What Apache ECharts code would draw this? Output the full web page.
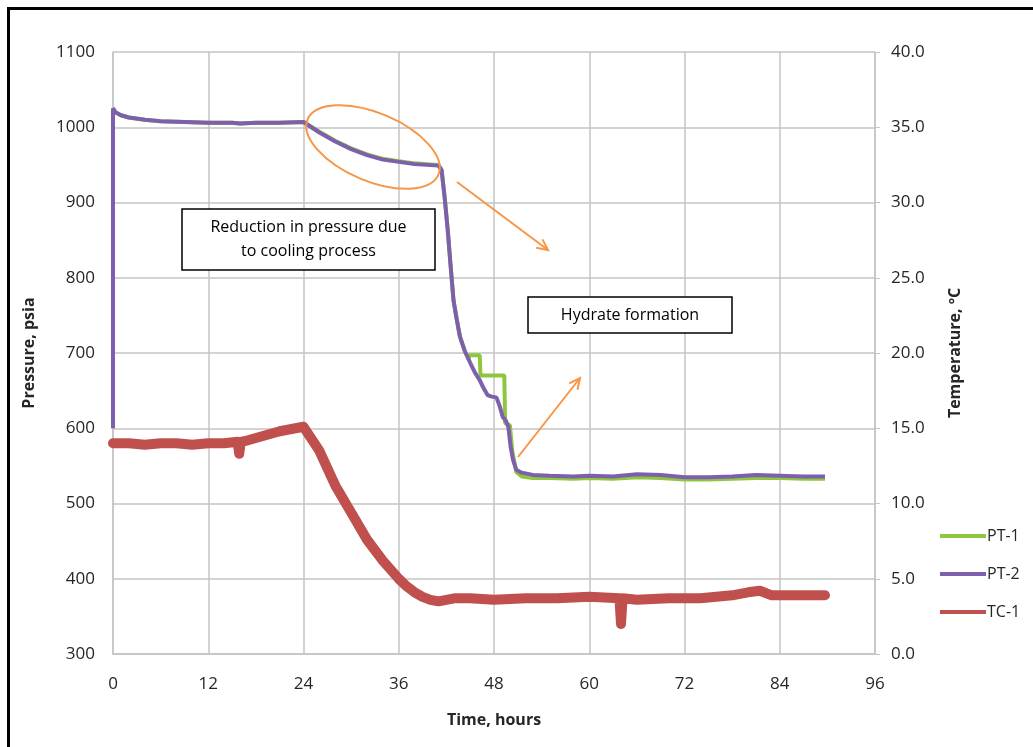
<!DOCTYPE html>
<html>
<head>
<meta charset="utf-8">
<style>
  html, body { margin: 0; padding: 0; background: #fff; }
  #chart { width: 1033px; height: 747px; }
</style>
<script src="https://cdn.jsdelivr.net/npm/echarts@6/dist/echarts.min.js"></script>
</head>
<body>
<div id="chart"></div>
<script>
// time in hours, pressure in psia, temperature in degC
const pt2Time = [0, 0, 0.3, 1, 2, 4, 6, 9, 12, 15, 16, 18, 21, 24, 26, 28, 30, 32, 34, 36, 38, 39.5, 41,
  41.4, 41.8, 42.2, 42.5, 42.9, 43.3, 43.7, 44.3, 45, 45.6, 46.2, 46.6, 47.2, 47.7, 48.3, 48.7, 49.1,
  49.5, 49.8, 50.1, 50.4, 50.8, 51.5, 52.9, 55, 58, 60, 63, 66, 69, 72, 75, 78, 81, 84, 87, 89.7];
const pt2Values = [600, 1025, 1020, 1016, 1013, 1010, 1008, 1007, 1006, 1006, 1005, 1006, 1006, 1007, 993, 981, 971, 963, 957, 954, 951, 950, 949,
  943, 905, 860, 820, 770, 745, 722, 703, 687, 674, 664, 655, 644, 642, 641, 630, 615,
  610, 602, 575, 558, 545, 541, 538, 537, 536, 537, 536, 539, 538, 535, 535, 536, 538, 537, 536, 536];

const pt1Time = [0, 0, 0.3, 1, 2, 4, 6, 9, 12, 15, 16, 18, 21, 24, 26, 28, 30, 32, 34, 36, 38, 39.5, 41,
  41.4, 41.8, 42.2, 42.5, 42.9, 43.3, 43.7, 44.3, 44.8, 44.9, 46.2, 46.3, 49.3, 49.4, 50.0, 50.3,
  50.8, 51.5, 52.9, 55, 58, 60, 63, 66, 69, 72, 75, 78, 81, 84, 87, 89.7];
const pt1Values = [600, 1025, 1020, 1016, 1013, 1010, 1008, 1007, 1006, 1006, 1005, 1006, 1006, 1007, 994, 982, 972, 964, 958, 955, 952, 951, 950,
  943, 905, 860, 820, 770, 745, 722, 703, 692, 697, 697, 670, 670, 607, 604, 570,
  542, 536, 534, 534, 533, 534, 533, 535, 534, 532, 532, 533, 534, 534, 533, 533];

const tcTime = [0, 2, 4, 6, 8, 10, 12, 14, 15.7, 15.9, 16.1, 17, 19, 21, 23, 24, 25, 26, 28, 30, 32, 34, 36, 37, 38,
  39, 40, 41, 43, 45, 48, 52, 56, 60, 63.8, 64, 64.2, 66, 70, 74, 78, 80, 81.5, 83, 86, 89.7];
const tcValues = [14.0, 14.0, 13.9, 14.0, 14.0, 13.9, 14.0, 14.0, 14.1, 13.3, 14.1, 14.2, 14.5, 14.8, 15.0, 15.1, 14.3, 13.5, 11.2, 9.4, 7.6, 6.2, 5.0, 4.5, 4.1,
  3.8, 3.6, 3.5, 3.7, 3.7, 3.6, 3.7, 3.7, 3.8, 3.7, 2.0, 3.7, 3.6, 3.7, 3.7, 3.9, 4.1, 4.2, 3.9, 3.9, 3.9];

const timeTicks = { min: 0, max: 96, interval: 12 };
const pressureTicks = { min: 300, max: 1100, interval: 100 };
const tempTicks = { min: 0, max: 40, interval: 5 };

const zip = (xs, ys) => xs.map((x, i) => [x, ys[i]]);

const chart = echarts.init(document.getElementById("chart"));
const font = "'Open Sans', sans-serif";
const gridColor = "#c4c4c4";
const labelColor = "#262626";

const option = {
  animation: false,
  textStyle: { fontFamily: font },
  grid: { left: 113, right: 158, top: 52, bottom: 93 },
  legend: {
    orient: "vertical",
    left: 935,
    top: 523,
    itemWidth: 46,
    itemHeight: 4,
    itemGap: 22,
    icon: "rect",
    textStyle: { fontSize: 16, color: labelColor, fontFamily: font, padding: [0, 0, 0, -4] },
    data: ["PT-1", "PT-2", "TC-1"],
  },
  xAxis: {
    type: "value",
    min: timeTicks.min,
    max: timeTicks.max,
    interval: timeTicks.interval,
    name: "Time, hours",
    nameLocation: "middle",
    nameGap: 58,
    nameTextStyle: { fontSize: 16, fontWeight: "bold", color: labelColor },
    axisLine: { lineStyle: { color: gridColor, width: 1.5 } },
    axisTick: { show: false },
    axisLabel: { fontSize: 17, color: labelColor, margin: 22 },
    splitLine: { show: true, lineStyle: { color: gridColor, width: 1.5 } },
  },
  yAxis: [
    {
      type: "value",
      min: pressureTicks.min,
      max: pressureTicks.max,
      interval: pressureTicks.interval,
      name: "Pressure, psia",
      nameLocation: "middle",
      nameGap: 76,
      nameTextStyle: { fontSize: 16, fontWeight: "bold", color: labelColor },
      axisLine: { show: true, lineStyle: { color: gridColor, width: 1.5 } },
      axisTick: { show: false },
      axisLabel: { fontSize: 17, color: labelColor, margin: 18, formatter: (v) => String(v) },
      splitLine: { show: true, lineStyle: { color: gridColor, width: 1.5 } },
    },
    {
      type: "value",
      position: "right",
      min: tempTicks.min,
      max: tempTicks.max,
      interval: tempTicks.interval,
      name: "Temperature, \u00baC",
      nameLocation: "middle",
      nameGap: 72,
      nameRotate: 90,
      nameTextStyle: { fontSize: 16, fontWeight: "bold", color: labelColor },
      axisLine: { show: true, lineStyle: { color: gridColor, width: 1.5 } },
      axisTick: { show: true, length: 5, lineStyle: { color: gridColor } },
      axisLabel: { fontSize: 17, color: labelColor, margin: 16, formatter: (v) => v.toFixed(1) },
      splitLine: { show: false },
    },
  ],
  series: [
    {
      name: "PT-1",
      type: "line",
      yAxisIndex: 0,
      showSymbol: false,
      lineStyle: { color: "#8dc63f", width: 4 },
      itemStyle: { color: "#8dc63f" },
      data: zip(pt1Time, pt1Values),
    },
    {
      name: "PT-2",
      type: "line",
      yAxisIndex: 0,
      showSymbol: false,
      lineStyle: { color: "#7e5fae", width: 4 },
      itemStyle: { color: "#7e5fae" },
      data: zip(pt2Time, pt2Values),
    },
    {
      name: "TC-1",
      type: "line",
      yAxisIndex: 1,
      showSymbol: false,
      lineStyle: { color: "#c0504d", width: 10, join: "round", cap: "round" },
      itemStyle: { color: "#c0504d" },
      data: zip(tcTime, tcValues),
    },
  ],
};

chart.setOption(option);

// annotations (pixel positions on the 1033x747 canvas)
const orange = "#f79646";
function arrow(x1, y1, x2, y2) {
  const ang = Math.atan2(y2 - y1, x2 - x1);
  const h = 12, spread = 0.45;
  return [
    { type: "line", shape: { x1, y1, x2, y2 }, style: { stroke: orange, lineWidth: 2 }, z: 100 },
    {
      type: "polyline",
      shape: {
        points: [
          [x2 - h * Math.cos(ang - spread), y2 - h * Math.sin(ang - spread)],
          [x2, y2],
          [x2 - h * Math.cos(ang + spread), y2 - h * Math.sin(ang + spread)],
        ],
      },
      style: { stroke: orange, lineWidth: 2, fill: null },
      z: 100,
    },
  ];
}
function textBox(x, y, w, h, text) {
  return [
    { type: "rect", shape: { x, y, width: w, height: h }, style: { fill: "#fff", stroke: "#000", lineWidth: 1.5 }, z: 100 },
    {
      type: "text",
      x: x + w / 2,
      y: y + h / 2,
      style: { text, fill: "#000", font: "16px " + font, align: "center", verticalAlign: "middle", lineHeight: 24 },
      z: 101,
    },
  ];
}

chart.setOption({
  graphic: [
    { type: "rect", shape: { x: 8.5, y: 8.5, width: 1060, height: 780 }, style: { fill: null, stroke: "#000", lineWidth: 3 }, z: 100 },
    {
      type: "ellipse",
      x: 373, y: 147,
      rotation: -0.40,
      shape: { cx: 0, cy: 0, rx: 71, ry: 34 },
      style: { fill: null, stroke: orange, lineWidth: 2 },
      z: 100,
    },
    ...arrow(457, 182, 548, 250),
    ...arrow(518, 457, 580, 378),
    ...textBox(182, 209, 253, 61, "Reduction in pressure due\nto cooling process"),
    ...textBox(528, 297, 204, 36, "Hydrate formation"),
  ],
});

window.addEventListener("resize", () => {
  chart.resize();
});
</script>
</body>
</html>
